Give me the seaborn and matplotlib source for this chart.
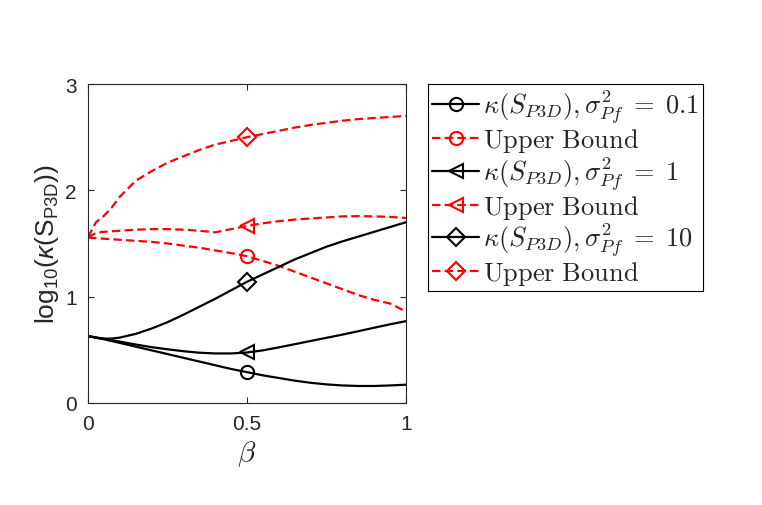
import matplotlib
matplotlib.use("Agg")
import matplotlib.pyplot as plt
from matplotlib.lines import Line2D
import seaborn as sns

# values
beta = [0, 0.025, 0.05, 0.075, 0.1, 0.15, 0.2, 0.25, 0.3, 0.35, 0.4, 0.45,
        0.5, 0.55, 0.6, 0.65, 0.7, 0.75, 0.8, 0.85, 0.9, 0.95, 1.0]

kappa_01 = [0.63, 0.615, 0.60, 0.582, 0.565, 0.53, 0.495, 0.46, 0.425, 0.39, 0.355, 0.32,
            0.29, 0.26, 0.235, 0.21, 0.19, 0.175, 0.165, 0.16, 0.16, 0.165, 0.172]
kappa_1 = [0.63, 0.617, 0.605, 0.59, 0.577, 0.55, 0.525, 0.505, 0.487, 0.473, 0.466, 0.466,
           0.475, 0.495, 0.523, 0.553, 0.583, 0.613, 0.643, 0.675, 0.708, 0.74, 0.77]
kappa_10 = [0.63, 0.612, 0.605, 0.606, 0.615, 0.65, 0.70, 0.76, 0.83, 0.905, 0.98, 1.06,
            1.14, 1.21, 1.28, 1.35, 1.41, 1.47, 1.52, 1.565, 1.61, 1.655, 1.70]

ub_01 = [1.555, 1.55, 1.545, 1.54, 1.535, 1.525, 1.515, 1.50, 1.48, 1.46, 1.435, 1.41,
         1.38, 1.335, 1.29, 1.235, 1.18, 1.125, 1.07, 1.015, 0.97, 0.935, 0.86]
ub_1 = [1.555, 1.60, 1.61, 1.615, 1.62, 1.63, 1.635, 1.635, 1.63, 1.62, 1.605, 1.635,
        1.665, 1.69, 1.71, 1.725, 1.735, 1.745, 1.755, 1.757, 1.755, 1.75, 1.74]
ub_10 = [1.56, 1.70, 1.76, 1.84, 1.94, 2.09, 2.18, 2.26, 2.32, 2.38, 2.43, 2.465,
         2.50, 2.53, 2.56, 2.59, 2.615, 2.635, 2.655, 2.67, 2.68, 2.69, 2.70]

labels = [r"$\kappa(S_{P3D}),\sigma^2_{Pf}\;=\;0.1$", r"$\mathrm{Upper\ Bound}$",
          r"$\kappa(S_{P3D}),\sigma^2_{Pf}\;=\;1$", r"$\mathrm{Upper\ Bound}$",
          r"$\kappa(S_{P3D}),\sigma^2_{Pf}\;=\;10$", r"$\mathrm{Upper\ Bound}$"]
x_ticks = [0, 0.5, 1]
y_ticks = [0, 1, 2, 3]
marker_idx = 12  # one marker per curve, at beta = 0.5

sns.set_theme(style="ticks")
plt.rcParams["font.family"] = ["Liberation Sans", "DejaVu Sans"]
plt.rcParams["mathtext.fontset"] = "custom"
plt.rcParams["mathtext.rm"] = "Liberation Sans"
plt.rcParams["mathtext.it"] = "Liberation Sans:italic"
AXCOL = "#262626"

fig = plt.figure(figsize=(7.62, 5.06), dpi=100)
ax = fig.add_axes([0.1155, 0.2016, 0.4173, 0.6304])

DASH = (0, (3.8, 1.9))
series = [
    (kappa_01, "black", "-", "o", 9.5),
    (ub_01, "red", DASH, "o", 9.5),
    (kappa_1, "black", "-", "<", 9.5),
    (ub_1, "red", DASH, "<", 9.5),
    (kappa_10, "black", "-", "D", 9.5),
    (ub_10, "red", DASH, "D", 9.5),
]

handles = []
for vals, col, ls, mk, ms in series:
    sns.lineplot(x=beta, y=vals, ax=ax, color=col, linestyle=ls, linewidth=1.6,
                 marker=mk, markersize=ms, markevery=[marker_idx],
                 markerfacecolor="none", markeredgecolor=col, markeredgewidth=1.5,
                 sort=False, estimator=None)
    handles.append(Line2D([], [], color=col, linestyle=ls, linewidth=1.6, marker=mk,
                          markersize=ms, markerfacecolor="none", markeredgecolor=col,
                          markeredgewidth=1.5))

ax.set_xlim(0, 1)
ax.set_ylim(0, 3)
ax.set_xticks(x_ticks)
ax.set_xticklabels(["0", "0.5", "1"])
ax.set_yticks(y_ticks)
ax.tick_params(direction="in", length=4, width=0.8, colors=AXCOL, labelsize=15,
               top=True, right=True, labeltop=False, labelright=False, pad=8)
for sp in ax.spines.values():
    sp.set_color(AXCOL)
    sp.set_linewidth(0.8)

ax.set_xlabel(r"$\beta$", fontsize=21, color=AXCOL, math_fontfamily="cm", labelpad=4)
ax.set_ylabel(r"log$_{10}$($\kappa$(S$_{\mathrm{P3D}}$))", fontsize=19, color=AXCOL,
              labelpad=3)

leg = fig.legend(handles, labels, loc="upper left", bbox_to_anchor=(428 / 762, 1 - 85 / 506),
                 borderaxespad=0, borderpad=0.15, handlelength=1.8, handletextpad=0.15,
                 labelspacing=0.0, fancybox=False, framealpha=1, edgecolor="black",
                 prop={"size": 19.0, "math_fontfamily": "cm"})
leg.get_frame().set_linewidth(0.8)

fig.savefig("out.png", dpi=100)
